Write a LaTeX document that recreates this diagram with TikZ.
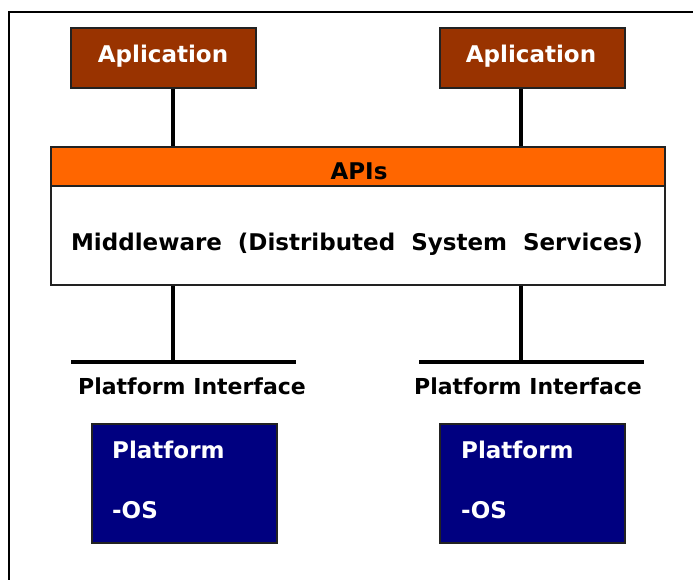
\documentclass[tikz,border=0pt]{standalone}
\usepackage{fontspec}
\setmainfont{DejaVu Sans}
\newfontfamily\widespacefont[WordSpace=2.0]{DejaVu Sans}
\definecolor{appbrown}{HTML}{993300}
\definecolor{apiorange}{HTML}{FF6600}
\definecolor{platnavy}{HTML}{000080}
\definecolor{edgegray}{HTML}{222222}
\begin{document}
\begin{tikzpicture}[x=1pt,y=-1pt,
  box/.style={draw=edgegray,line width=1.6pt,inner sep=0pt,anchor=north west},
  txt/.style={inner sep=0pt,font=\fontsize{22}{26}\selectfont\bfseries,anchor=base},
  bigtxt/.style={txt,font=\fontsize{23}{27}\selectfont\bfseries},
  wire/.style={line width=3.5pt,black}]
\useasboundingbox (0,0) rectangle (693,580);
% outer frame
\draw[line width=1.5pt] (9,590) -- (9,12) -- (700,12);
% application boxes
\node[box,fill=appbrown,minimum width=185pt,minimum height=60pt] (app1) at (70,27) {};
\node[box,fill=appbrown,minimum width=185pt,minimum height=60pt] (app2) at (439,27) {};
\node[bigtxt,text=white] (app1t) at (163,63) {Aplication};
\node[bigtxt,text=white] (app2t) at (531,63) {Aplication};
% API bar and middleware
\node[box,fill=white,minimum width=614pt,minimum height=99pt] (mw) at (50,185) {};
\node[box,fill=apiorange,minimum width=614pt,minimum height=39pt] (api) at (50,146) {};
\node[bigtxt] (apit) at (359,180) {APIs};
\node[txt,font=\fontsize{23}{27}\selectfont\widespacefont\bfseries] (mwt) at (357,250) {Middleware (Distributed System Services)};
% coordinates for wires
\coordinate (c1) at (173,0);
\coordinate (c2) at (521,0);
\coordinate (pi1l) at (71,362);
\coordinate (pi1r) at (296,362);
\coordinate (pi2l) at (419,362);
\coordinate (pi2r) at (644,362);
% wires
\draw[wire] (app1.south -| c1) -- (api.north -| c1);
\draw[wire] (app2.south -| c2) -- (api.north -| c2);
\draw[wire] (mw.south -| c1) -- (pi1l -| c1);
\draw[wire] (mw.south -| c2) -- (pi2l -| c2);
\draw[wire] (pi1l) -- (pi1r);
\draw[wire] (pi2l) -- (pi2r);
% platform interface labels
\node[txt] (pit1) at (192,394) {Platform Interface};
\node[txt] (pit2) at (528,394) {Platform Interface};
% platform boxes
\node[box,fill=platnavy,minimum width=185pt,minimum height=119pt] (plat1) at (91,423) {};
\node[box,fill=platnavy,minimum width=185pt,minimum height=119pt] (plat2) at (439,423) {};
\node[bigtxt,text=white,anchor=base west] (p1a) at (112,458) {Platform};
\node[bigtxt,text=white,anchor=base west] (p1b) at (112,518) {-OS};
\node[bigtxt,text=white,anchor=base west] (p2a) at (461,458) {Platform};
\node[bigtxt,text=white,anchor=base west] (p2b) at (461,518) {-OS};
\end{tikzpicture}
\end{document}
